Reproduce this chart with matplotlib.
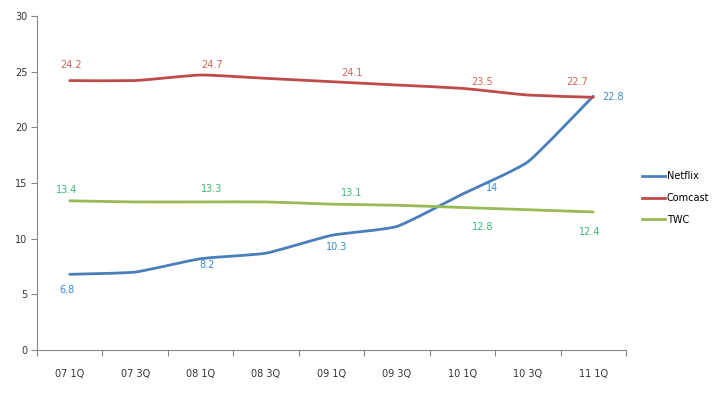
import matplotlib
matplotlib.use("Agg")
import matplotlib.pyplot as plt
from matplotlib.path import Path
from matplotlib.patches import PathPatch
import numpy as np

tick_labels = ["07 1Q", "07 3Q", "08 1Q", "08 3Q", "09 1Q", "09 3Q", "10 1Q", "10 3Q", "11 1Q"]
netflix = [6.8, 7.0, 8.2, 8.7, 10.3, 11.1, 14.0, 16.9, 22.8]
comcast = [24.2, 24.2, 24.7, 24.4, 24.1, 23.8, 23.5, 22.9, 22.7]
twc = [13.4, 13.3, 13.3, 13.3, 13.1, 13.0, 12.8, 12.6, 12.4]
label_idx = [0, 2, 4, 6, 8]

# label offsets in pixels (dx, dy up)
off_com = [(1, 15.6), (11, 10), (20, 9), (20, 6), (-16, 15)]
off_twc = [(-3, 11), (11, 13), (20, 11), (20, -20), (-4, -20)]
off_net = [(-3, -16), (6, -6), (5, -12), (30, 6), (20, -1)]

fig = plt.figure(figsize=(7.23, 3.98), dpi=100)
ax = fig.add_axes([37/723, 1-350/398, (626-37)/723, (350-16)/398])

x = np.arange(len(tick_labels))
c_net, c_com, c_twc = "#4a7ebb", "#be4b48", "#98b954"


def smooth_path(xs, ys, t=0.08):
    xs = np.asarray(xs, float)
    ys = np.asarray(ys, float)
    n = len(xs)
    verts = [(xs[0], ys[0])]
    codes = [Path.MOVETO]
    for i in range(n - 1):
        p0 = np.array([xs[max(i - 1, 0)], ys[max(i - 1, 0)]])
        p1 = np.array([xs[i], ys[i]])
        p2 = np.array([xs[i + 1], ys[i + 1]])
        p3 = np.array([xs[min(i + 2, n - 1)], ys[min(i + 2, n - 1)]])
        c1 = p1 + (p2 - p0) * t
        c2 = p2 - (p3 - p1) * t
        verts += [tuple(c1), tuple(c2), tuple(p2)]
        codes += [Path.CURVE4] * 3
    return Path(verts, codes)


for ys, col, name in [(netflix, c_net, "Netflix"), (comcast, c_com, "Comcast"), (twc, c_twc, "TWC")]:
    patch = PathPatch(smooth_path(x, ys), facecolor="none", edgecolor=col, lw=2.0,
                      capstyle="round", joinstyle="round")
    ax.add_patch(patch)
    ax.plot([], [], color=col, lw=2.0, label=name)

fs = 7
lc_net, lc_com, lc_twc = "#3a8ad6", "#d0645c", "#3cb878"
k = 0.72
for vals, offs, col in [(comcast, off_com, lc_com), (twc, off_twc, lc_twc), (netflix, off_net, lc_net)]:
    for i, (dx, dy) in zip(label_idx, offs):
        ax.annotate(f"{vals[i]:g}", (x[i], vals[i]), xytext=(dx * k, dy * k), textcoords="offset points",
                    ha="center", va="center", fontsize=fs, color=col)

ax.set_xlim(-0.5, len(x) - 0.5)
ax.set_ylim(0, 30)
ax.set_yticks(range(0, 31, 5))
ax.set_xticks(np.arange(-0.5, len(x), 1.0), minor=False)
ax.set_xticklabels([])
ax.set_xticks(x, minor=True)
ax.set_xticklabels(tick_labels, minor=True)
ax.tick_params(axis="x", which="minor", length=0, pad=14, labelsize=fs, colors="#333333")
ax.tick_params(axis="x", which="major", length=4, color="#888888", direction="out")
ax.tick_params(axis="y", length=4, color="#888888", labelsize=fs, labelcolor="#333333", pad=3)
for s in ["top", "right"]:
    ax.spines[s].set_visible(False)
for s in ["left", "bottom"]:
    ax.spines[s].set_color("#888888")
    ax.spines[s].set_linewidth(0.8)

leg = ax.legend(loc="center left", bbox_to_anchor=(1.013, 0.455), frameon=False, fontsize=fs,
                handlelength=2.3, handletextpad=0.2, labelspacing=1.2)

fig.savefig("out.png", dpi=100)
